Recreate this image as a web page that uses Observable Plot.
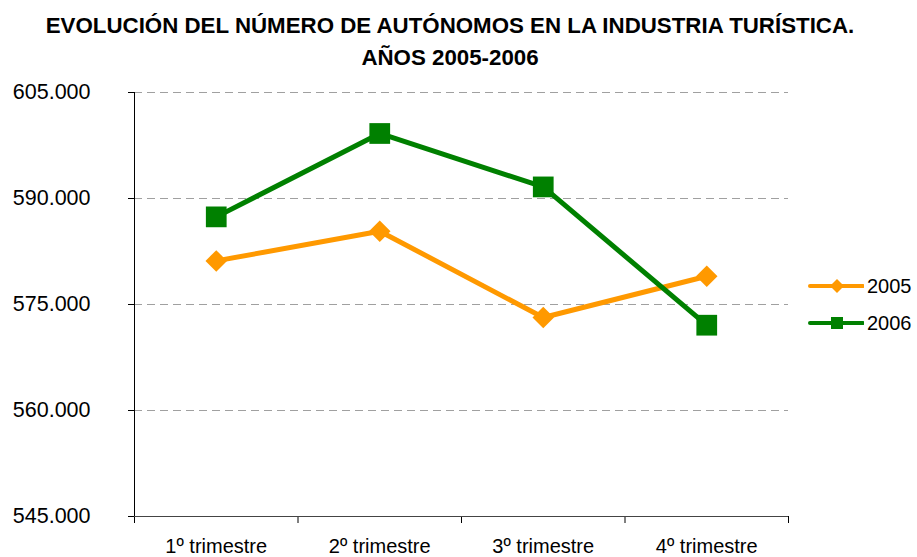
<!DOCTYPE html>
<html>
<head>
<meta charset="utf-8">
<script src="https://cdn.jsdelivr.net/npm/d3@7"></script>
<script src="https://cdn.jsdelivr.net/npm/@observablehq/plot@0.6"></script>
<style>
  html, body { margin: 0; padding: 0; background: #fff; }
  #wrap { position: relative; width: 917px; height: 557px; font-family: "Liberation Sans", Arial, sans-serif; }
  #title { position: absolute; left: 0; top: 10px; width: 900px; text-align: center; font-weight: bold; font-size: 22.3px; line-height: 32px; color: #000; }
  .leg { position: absolute; left: 808px; height: 24px; display: flex; align-items: center; font-size: 20px; color: #000; }
  .leg svg { margin-right: 3px; }
</style>
</head>
<body>
<div id="wrap">
  <div id="title">EVOLUCIÓN DEL NÚMERO DE AUTÓNOMOS EN LA INDUSTRIA TURÍSTICA.<br>AÑOS 2005-2006</div>
</div>
<script>
const quarters = ["1º trimestre", "2º trimestre", "3º trimestre", "4º trimestre"];
const seriesNames = ["2005", "2006"];
const values2005 = [581170, 585370, 573160, 579000];
const values2006 = [587400, 599200, 591640, 572070];
const yTicks = [545000, 560000, 575000, 590000, 605000];
const seriesColors = ["#FF9900", "#008000"];

const rows = [];
[values2005, values2006].forEach((vals, s) => {
  vals.forEach((v, i) => rows.push({q: i + 1, quarter: quarters[i], value: v, series: seriesNames[s]}));
});
const fmt = v => d3.format(",")(v).replace(/,/g, ".");

const chart = Plot.plot({
  width: 917,
  height: 557,
  marginTop: 92,
  marginBottom: 41,
  marginLeft: 134,
  marginRight: 129,
  style: {fontFamily: '"Liberation Sans", Arial, sans-serif', background: "transparent", color: "#000"},
  x: {type: "linear", domain: [0.5, 4.5], label: null},
  y: {domain: [545000, 605000], label: null},
  color: {domain: seriesNames, range: seriesColors},
  marks: [
    Plot.ruleY(yTicks.filter(v => v > yTicks[0]), {stroke: "#a0a0a0", strokeDasharray: "8,5", strokeWidth: 1}),
    Plot.axisY({ticks: yTicks, tickFormat: fmt, tickSize: 6, tickPadding: 38, fontSize: 21.5, stroke: "#000", strokeOpacity: 1, label: null}),
    Plot.axisX({ticks: [0.5, 1.5, 2.5, 3.5, 4.5], tickFormat: () => "", tickSize: 7, stroke: "#000", strokeOpacity: 1, label: null}),
    Plot.axisX({ticks: [1, 2, 3, 4], tickFormat: i => quarters[i - 1], tickSize: 0, tickPadding: 22, fontSize: 20, style: {letterSpacing: "0.6px"}, label: null}),
    Plot.ruleX([0.5], {stroke: "#000"}),
    Plot.ruleY([yTicks[0]], {stroke: "#444"}),
    Plot.line(rows, {x: "q", y: "value", z: "series", stroke: "series", strokeWidth: 5}),
    Plot.dot(rows.filter(d => d.series === seriesNames[0]), {x: "q", y: "value", symbol: "diamond2", r: 9.7, fill: seriesColors[0], stroke: null}),
    Plot.dot(rows.filter(d => d.series === seriesNames[1]), {x: "q", y: "value", symbol: "square", r: 11.7, fill: seriesColors[1], stroke: null})
  ]
});
const wrap = document.getElementById("wrap");
wrap.insertBefore(chart, wrap.firstChild);

// legend
const legTops = [274, 311];
seriesNames.forEach((name, i) => {
  const item = document.createElement("div");
  item.className = "leg";
  item.style.top = legTops[i] + "px";
  const marker = i === 0
    ? `<polygon points="29,5 36,12 29,19 22,12" fill="${seriesColors[i]}"/>`
    : `<rect x="23" y="6" width="12" height="12" fill="${seriesColors[i]}"/>`;
  item.innerHTML = `<svg width="56" height="24"><line x1="2" y1="12" x2="55" y2="12" stroke="${seriesColors[i]}" stroke-width="4" stroke-linecap="round"/>${marker}</svg><span>${name}</span>`;
  wrap.appendChild(item);
});
</script>
</body>
</html>
